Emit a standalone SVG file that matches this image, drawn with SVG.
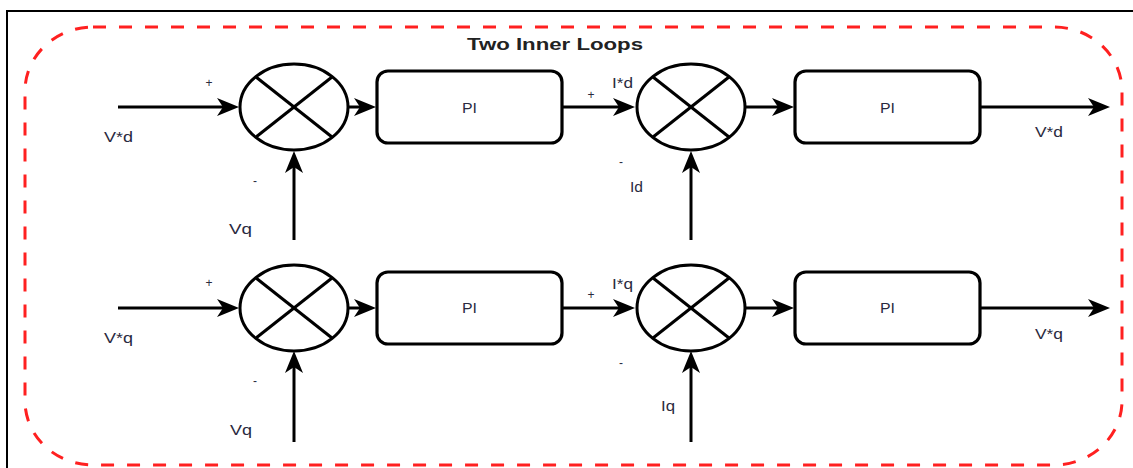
<svg xmlns="http://www.w3.org/2000/svg" width="1133" height="468" viewBox="0 0 1133 468">
  <defs>
    <marker id="arr" viewBox="0 0 22 18" refX="14" refY="9" markerWidth="22" markerHeight="18" markerUnits="userSpaceOnUse" orient="auto">
      <path d="M0,0 L22,9 L0,18 L6,9 Z" fill="#000"/>
    </marker>
    <style>
      .sum { fill: #fff; stroke: #000; stroke-width: 3; }
      .xl { stroke: #000; stroke-width: 3; }
      .pi { fill: #fff; stroke: #000; stroke-width: 3.2; }
      .conn { stroke: #000; stroke-width: 3; fill: none; marker-end: url(#arr); }
      .lbl { font-family: "Liberation Sans", Arial, sans-serif; font-size: 14px; fill: #2a2a40; }
      .sgn { font-family: "Liberation Sans", Arial, sans-serif; font-size: 12px; fill: #2a2a40; text-anchor: middle; }
      .title { font-family: "Liberation Sans", Arial, sans-serif; font-size: 17px; font-weight: bold; fill: #222; }
    </style>
  </defs>
  <rect width="1133" height="468" fill="#fff"/>
  <rect x="7" y="11" width="1140" height="470" fill="none" stroke="#000" stroke-width="2"/>
  <g id="group-box">
    <rect x="25" y="27" width="1097" height="438" rx="68" ry="64" fill="none" stroke="#ff2020" stroke-width="3" stroke-dasharray="13 13"/>
    <text class="title" x="467" y="50" textLength="176" lengthAdjust="spacingAndGlyphs">Two Inner Loops</text>
  </g>

  <g id="connectors">
    <line class="conn" x1="118" y1="107" x2="231" y2="107"/>
    <line class="conn" x1="348" y1="107" x2="368" y2="107"/>
    <line class="conn" x1="562" y1="107" x2="627" y2="107"/>
    <line class="conn" x1="745" y1="107" x2="786" y2="107"/>
    <line class="conn" x1="980" y1="107" x2="1102" y2="107"/>
    <line class="conn" x1="294" y1="240" x2="294" y2="159"/>
    <line class="conn" x1="691" y1="240" x2="691" y2="159"/>

    <line class="conn" x1="118" y1="308" x2="231" y2="308"/>
    <line class="conn" x1="348" y1="308" x2="368" y2="308"/>
    <line class="conn" x1="562" y1="308" x2="627" y2="308"/>
    <line class="conn" x1="745" y1="308" x2="786" y2="308"/>
    <line class="conn" x1="980" y1="308" x2="1102" y2="308"/>
    <line class="conn" x1="294" y1="442" x2="294" y2="359"/>
    <line class="conn" x1="691" y1="442" x2="691" y2="359"/>
  </g>

  <g id="sum1">
    <ellipse class="sum" cx="294" cy="107" rx="54" ry="43"/>
    <line class="xl" x1="256" y1="77" x2="332" y2="137"/>
    <line class="xl" x1="332" y1="77" x2="256" y2="137"/>
  </g>
  <g id="pi1">
    <rect class="pi" x="377" y="71" width="185" height="72" rx="11"/>
    <text class="lbl" x="462" y="113" textLength="15" lengthAdjust="spacingAndGlyphs">PI</text>
  </g>
  <g id="sum2">
    <ellipse class="sum" cx="691" cy="107" rx="54" ry="43"/>
    <line class="xl" x1="653" y1="77" x2="729" y2="137"/>
    <line class="xl" x1="729" y1="77" x2="653" y2="137"/>
  </g>
  <g id="pi2">
    <rect class="pi" x="795" y="71" width="185" height="72" rx="11"/>
    <text class="lbl" x="880" y="113" textLength="15" lengthAdjust="spacingAndGlyphs">PI</text>
  </g>

  <g id="sum3">
    <ellipse class="sum" cx="294" cy="308" rx="54" ry="43"/>
    <line class="xl" x1="256" y1="278" x2="332" y2="338"/>
    <line class="xl" x1="332" y1="278" x2="256" y2="338"/>
  </g>
  <g id="pi3">
    <rect class="pi" x="377" y="272" width="185" height="72" rx="11"/>
    <text class="lbl" x="462" y="313" textLength="15" lengthAdjust="spacingAndGlyphs">PI</text>
  </g>
  <g id="sum4">
    <ellipse class="sum" cx="691" cy="308" rx="54" ry="43"/>
    <line class="xl" x1="653" y1="278" x2="729" y2="338"/>
    <line class="xl" x1="729" y1="278" x2="653" y2="338"/>
  </g>
  <g id="pi4">
    <rect class="pi" x="795" y="272" width="185" height="72" rx="11"/>
    <text class="lbl" x="880" y="313" textLength="15" lengthAdjust="spacingAndGlyphs">PI</text>
  </g>

  <g id="labels">
    <text class="lbl" x="104" y="142" textLength="29" lengthAdjust="spacingAndGlyphs">V*d</text>
    <text class="lbl" x="1035" y="137" textLength="28" lengthAdjust="spacingAndGlyphs">V*d</text>
    <text class="lbl" x="104" y="343" textLength="29" lengthAdjust="spacingAndGlyphs">V*q</text>
    <text class="lbl" x="1035" y="339" textLength="28" lengthAdjust="spacingAndGlyphs">V*q</text>
    <text class="lbl" x="229" y="234" textLength="23" lengthAdjust="spacingAndGlyphs">Vq</text>
    <text class="lbl" x="230" y="435" textLength="22" lengthAdjust="spacingAndGlyphs">Vq</text>
    <text class="lbl" x="612" y="88" textLength="21" lengthAdjust="spacingAndGlyphs">I*d</text>
    <text class="lbl" x="612" y="289" textLength="21" lengthAdjust="spacingAndGlyphs">I*q</text>
    <text class="lbl" x="630" y="192" textLength="13" lengthAdjust="spacingAndGlyphs">Id</text>
    <text class="lbl" x="661" y="411" textLength="14" lengthAdjust="spacingAndGlyphs">Iq</text>

    <text class="sgn" x="209" y="87">+</text>
    <text class="sgn" x="255" y="185">-</text>
    <text class="sgn" x="591" y="99">+</text>
    <text class="sgn" x="621" y="166">-</text>
    <text class="sgn" x="209" y="287">+</text>
    <text class="sgn" x="255" y="385">-</text>
    <text class="sgn" x="591" y="299">+</text>
    <text class="sgn" x="621" y="367">-</text>
  </g>
</svg>
